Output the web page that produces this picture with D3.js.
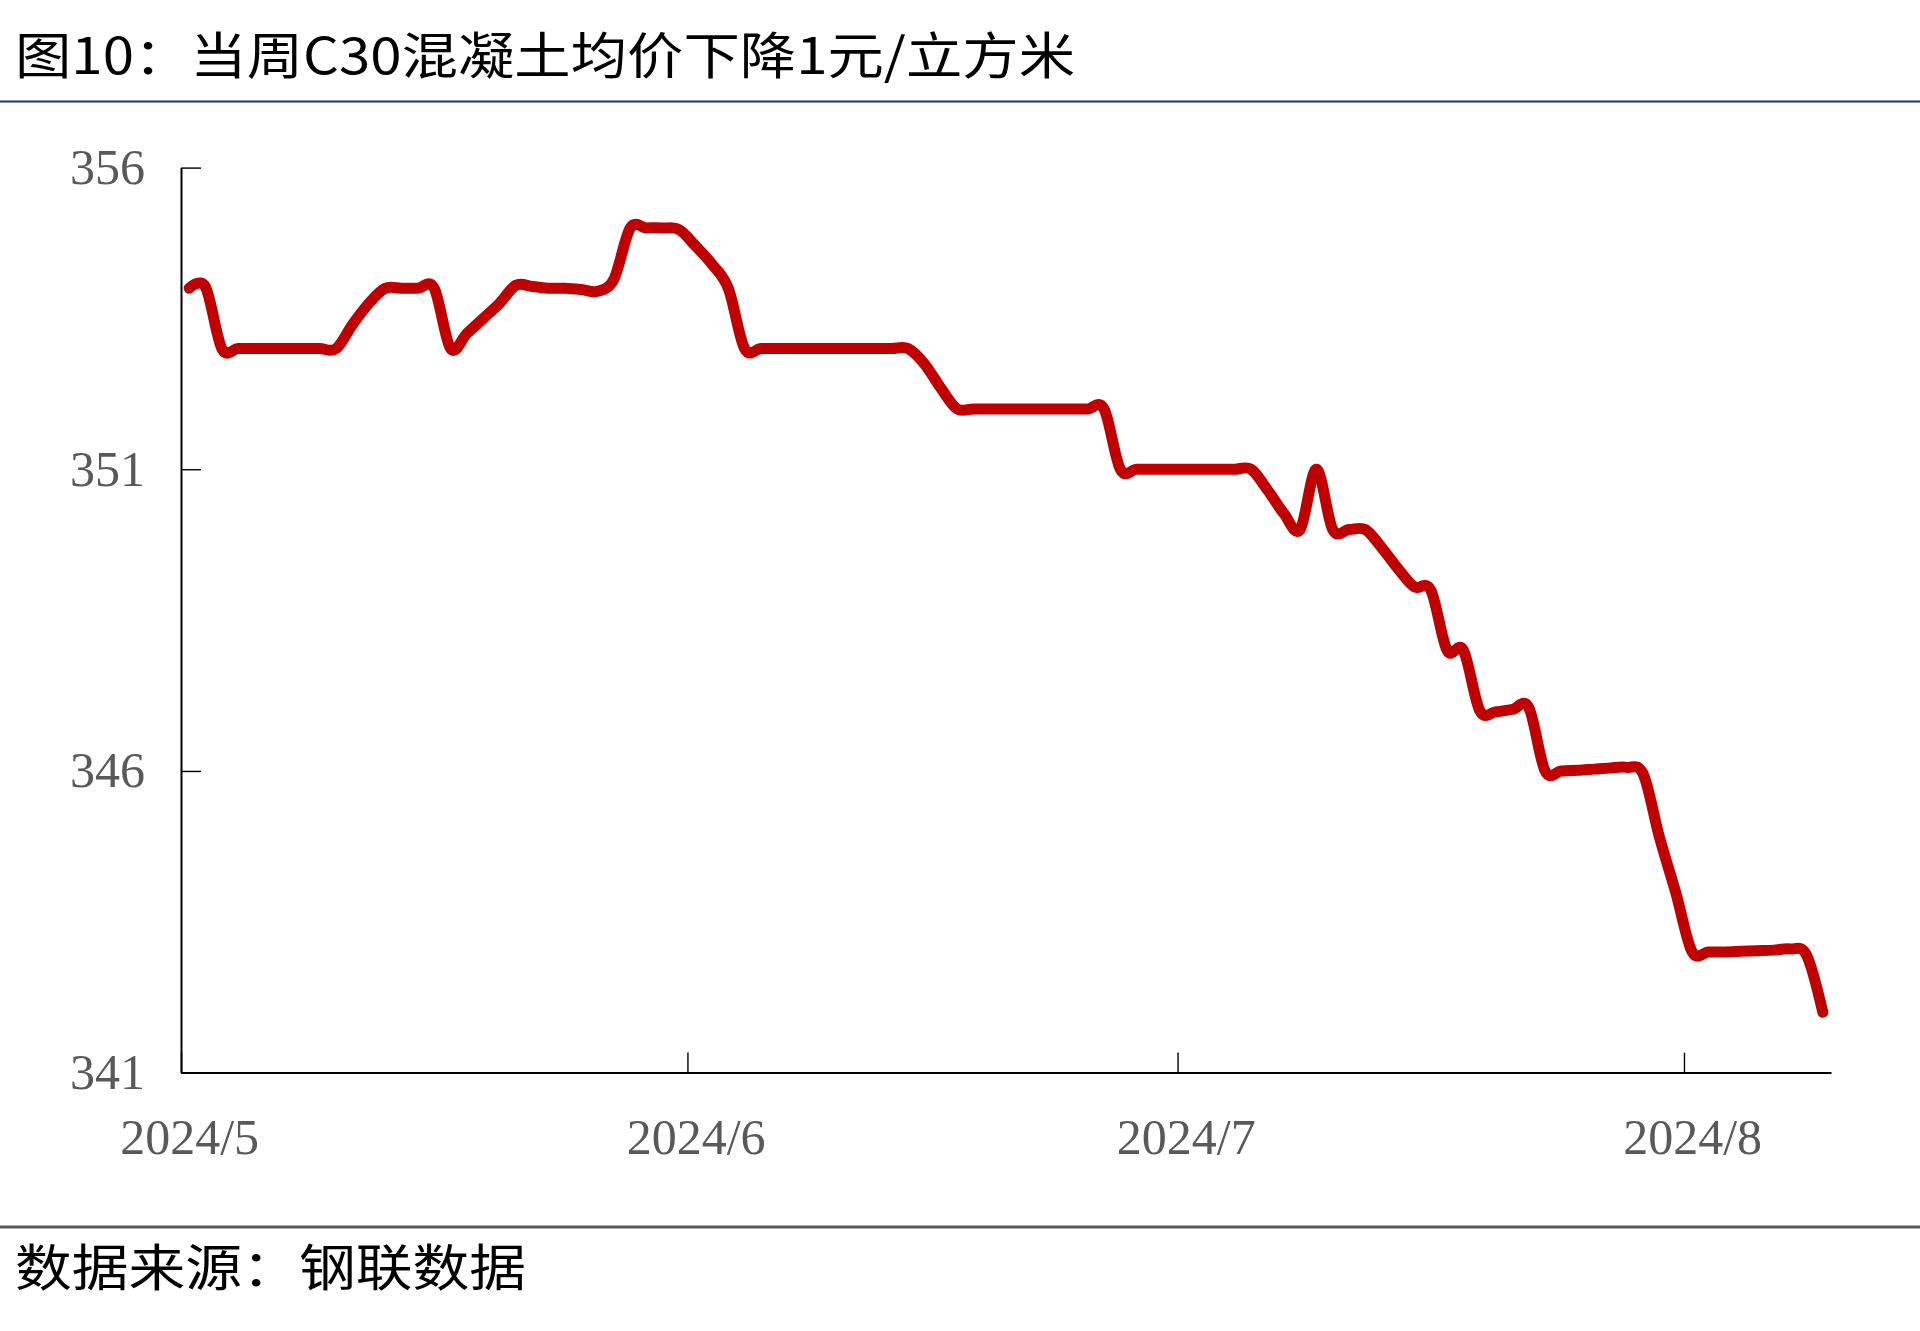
<!DOCTYPE html>
<html>
<head>
<meta charset="utf-8">
<script src="https://cdn.jsdelivr.net/npm/d3@7"></script>
<style>
  html, body { margin: 0; padding: 0; background: #fff; }
  svg { display: block; }
</style>
</head>
<body>
<svg id="chart" width="1920" height="1331"></svg>
<script>
// ---------- data ----------
const titleText = "图10：当周C30混凝土均价下降1元/立方米";
const sourceText = "数据来源：钢联数据";
const startDate = "2024-05-01";   // first daily observation
const endDate = "2024-08-10";     // end of x axis
// daily C30 concrete average price (yuan / m3), 2024-05-01 .. 2024-08-09
const values = [
  354, 354.02, 353, 353, 353, 353, 353, 353, 353, 353,
  353.4, 353.75, 354, 354, 354, 354, 353, 353.25, 353.5, 353.75,
  354.05, 354.03, 354, 354, 353.98, 353.95, 354.15, 355, 355, 355,
  354.97, 354.7, 354.4, 354, 353, 353, 353, 353, 353, 353,
  353, 353, 353, 353, 353, 352.75, 352.35, 352, 352, 352,
  352, 352, 352, 352, 352, 352, 352, 351, 351, 351,
  351, 351, 351, 351, 351, 351, 350.66, 350.27, 350, 351,
  350, 350, 350, 349.7, 349.35, 349.05, 349, 348, 348, 347,
  346.98, 347.02, 347.05, 346, 346, 346.01, 346.03, 346.05, 346.06, 345.95,
  344.9, 343.98, 343, 343, 343, 343.01, 343.02, 343.03, 343.05, 342.95,
  342
];
const yTicks = [341, 346, 351, 356];
const xTickDates = ["2024-05-01", "2024-06-01", "2024-07-01", "2024-08-01"];
const xTickLabels = ["2024/5", "2024/6", "2024/7", "2024/8"];

// ---------- setup ----------
const parse = d3.utcParse("%Y-%m-%d");
const t0 = parse(startDate);
const series = values.map((v, i) => ({ date: d3.utcDay.offset(t0, i), value: v }));

const svg = d3.select("#chart");
const plot = { left: 181, right: 1831, top: 167.6, bottom: 1072.6 };

const x = d3.scaleUtc()
  .domain([t0, parse(endDate)])
  .range([plot.left, plot.right]);
const y = d3.scaleLinear()
  .domain([341, 356])
  .range([plot.bottom, plot.top]);
const halfDay = (x(d3.utcDay.offset(t0, 1)) - x(t0)) / 2;
const mid = d => d3.utcHour.offset(d, 12);

// ---------- title & rules ----------
svg.append("text")
  .attr("x", 15).attr("y", 74)
  .attr("textLength", 1060).attr("lengthAdjust", "spacingAndGlyphs")
  .style("font-family", "'Noto Sans CJK SC', sans-serif")
  .style("font-size", "50px")
  .style("fill", "#000")
  .text(titleText);

svg.append("rect").attr("x", 0).attr("y", 100.5).attr("width", 1920).attr("height", 2)
  .attr("fill", "#0D3B82");

svg.append("rect").attr("x", 0).attr("y", 1225.5).attr("width", 1920).attr("height", 3)
  .attr("fill", "#595959");

svg.append("text")
  .attr("x", 15).attr("y", 1286)
  .attr("textLength", 511).attr("lengthAdjust", "spacingAndGlyphs")
  .style("font-family", "'Noto Sans CJK SC', sans-serif")
  .style("font-size", "50px")
  .style("fill", "#000")
  .text(sourceText);

// ---------- axes ----------
const axisFont = "'Liberation Serif', 'Times New Roman', serif";

const yAxis = svg.append("g")
  .attr("transform", `translate(${plot.left},0)`)
  .call(d3.axisLeft(y).tickValues(yTicks).tickFormat(d3.format("d"))
    .tickSize(-20).tickSizeOuter(0).tickPadding(36));

const xAxis = svg.append("g")
  .attr("transform", `translate(0,${plot.bottom})`)
  .call(d3.axisBottom(x).tickValues(xTickDates.map(parse))
    .tickFormat((d, i) => xTickLabels[i])
    .tickSize(-20).tickSizeOuter(0).tickPadding(0));

[yAxis, xAxis].forEach(g => {
  g.select(".domain").attr("stroke", "#000").attr("stroke-width", 2);
  g.selectAll(".tick line").attr("stroke", "#000").attr("stroke-width", 1.4);
  g.selectAll(".tick text")
    .style("font-family", axisFont)
    .style("font-size", "50px")
    .attr("fill", "#595959");
});
xAxis.selectAll(".tick text")
  .attr("x", halfDay)
  .attr("dy", null)
  .attr("y", 64)
  .attr("dominant-baseline", "central");

// ---------- line ----------
const line = d3.line()
  .x(d => x(mid(d.date)))
  .y(d => y(d.value))
  .curve(d3.curveCardinal.tension(0));

svg.append("path")
  .datum(series)
  .attr("d", line)
  .attr("fill", "none")
  .attr("stroke", "#C00000")
  .attr("stroke-width", 11)
  .attr("stroke-linecap", "round")
  .attr("stroke-linejoin", "round");
</script>
</body>
</html>
